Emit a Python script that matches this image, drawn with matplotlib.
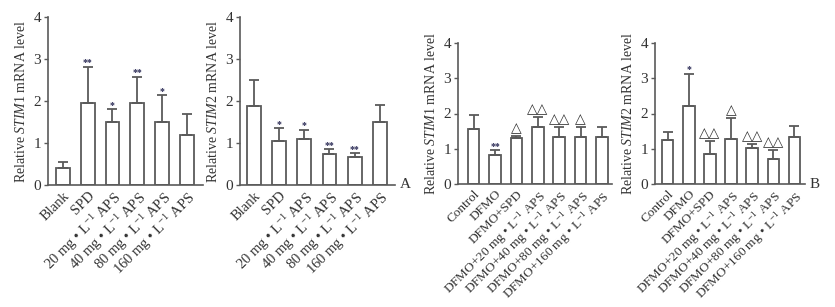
import matplotlib
matplotlib.use('Agg')
import matplotlib.pyplot as plt

plt.rcParams['font.family'] = ['Liberation Serif', 'DejaVu Sans']
plt.rcParams['mathtext.fontset'] = 'custom'
plt.rcParams['mathtext.rm'] = 'Liberation Serif'
plt.rcParams['mathtext.it'] = 'Liberation Serif:italic'

# panel A categories
cats_a = ['Blank', 'SPD', r'20 mg • L$^{-1}$ APS', r'40 mg • L$^{-1}$ APS',
          r'80 mg • L$^{-1}$ APS', r'160 mg • L$^{-1}$ APS']
stim1_a = [0.40, 1.96, 1.49, 1.96, 1.51, 1.20]
stim1_a_err = [0.14, 0.86, 0.31, 0.62, 0.63, 0.50]
stim1_a_mark = ['', '**', '*', '**', '*', '']
stim2_a = [1.89, 1.05, 1.09, 0.75, 0.66, 1.51]
stim2_a_err = [0.60, 0.30, 0.23, 0.10, 0.10, 0.39]
stim2_a_mark = ['', '*', '*', '**', '**', '']

# panel B categories
cats_b = ['Control', 'DFMO', 'DFMO+SPD', r'DFMO+20 mg • L$^{-1}$ APS',
          r'DFMO+40 mg • L$^{-1}$ APS', r'DFMO+80 mg • L$^{-1}$ APS',
          r'DFMO+160 mg • L$^{-1}$ APS']
stim1_b = [1.56, 0.82, 1.31, 1.61, 1.34, 1.34, 1.34]
stim1_b_err = [0.39, 0.14, 0.05, 0.28, 0.29, 0.28, 0.27]
stim1_b_mark = ['', '**', '△', '△△', '△△', '△', '']
stim2_b = [1.24, 2.20, 0.86, 1.29, 1.01, 0.71, 1.34]
stim2_b_err = [0.24, 0.93, 0.35, 0.59, 0.12, 0.25, 0.30]
stim2_b_mark = ['', '*', '△△', '△', '△△', '△△', '']

TXT = '#333333'
EDGE = '#5a5a5a'


def panel(fig, rect, cats, vals, errs, marks, gene, xlim, lab_fs, tag=None):
    ax = fig.add_axes(rect)
    x = list(range(len(cats)))
    ax.bar(x, vals, width=0.55, color='white', edgecolor=EDGE, linewidth=1.3)
    ax.errorbar(x, vals, yerr=[[0] * len(errs), errs], fmt='none',
                ecolor=EDGE, elinewidth=1.3, capsize=3.5, capthick=1.3)
    for xi, v, e, m in zip(x, vals, errs, marks):
        if not m:
            continue
        if '△' in m:
            ax.text(xi, v + e + 0.02, m, ha='center', va='bottom',
                    fontsize=10, color=TXT, family=['DejaVu Sans'])
        else:
            ax.text(xi, v + e - 0.02, m, ha='center', va='bottom',
                    fontsize=7, color='#2a2a55', fontweight='bold')
    ax.set_xlim(*xlim)
    ax.set_ylim(0, 4)
    ax.set_yticks([0, 1, 2, 3, 4])
    ax.set_xticks(x)
    ax.set_xticklabels(cats, rotation=45, ha='right', rotation_mode='anchor',
                       fontsize=lab_fs, color=TXT)
    ax.tick_params(axis='x', length=0, pad=3)
    ax.tick_params(axis='y', direction='out', length=3, width=1,
                   colors=EDGE, labelcolor=TXT, labelsize=11, pad=2)
    for s in ['top', 'right']:
        ax.spines[s].set_visible(False)
    for s in ['left', 'bottom']:
        ax.spines[s].set_color(EDGE)
        ax.spines[s].set_linewidth(1.2)
    ax.set_ylabel('Relative $\\mathit{' + gene + '}$ mRNA level',
                  fontsize=10, color=TXT, labelpad=4)
    if tag:
        ax.text(1.03, 0, tag, transform=ax.transAxes, ha='left',
                va='center', fontsize=11, color=TXT)
    return ax


def main():
    W, H = 835, 307
    fig = plt.figure(figsize=(W / 100, H / 100), dpi=100)
    panel(fig, [48 / W, 1 - 185 / H, 155 / W, 168 / H], cats_a,
          stim1_a, stim1_a_err, stim1_a_mark, 'STIM1', (-0.6, 5.65), 10.5)
    panel(fig, [240 / W, 1 - 185 / H, 155 / W, 168 / H], cats_a,
          stim2_a, stim2_a_err, stim2_a_mark, 'STIM2', (-0.55, 5.6), 10.5,
          'A')
    panel(fig, [458 / W, 1 - 184 / H, 154 / W, 141 / H], cats_b,
          stim1_b, stim1_b_err, stim1_b_mark, 'STIM1', (-0.73, 6.47), 9.5)
    panel(fig, [655 / W, 1 - 184 / H, 150 / W, 141 / H], cats_b,
          stim2_b, stim2_b_err, stim2_b_mark, 'STIM2', (-0.6, 6.5), 9.5,
          'B')
    fig.savefig('out.png', dpi=100, facecolor='white')


if __name__ == "__main__":
    main()
